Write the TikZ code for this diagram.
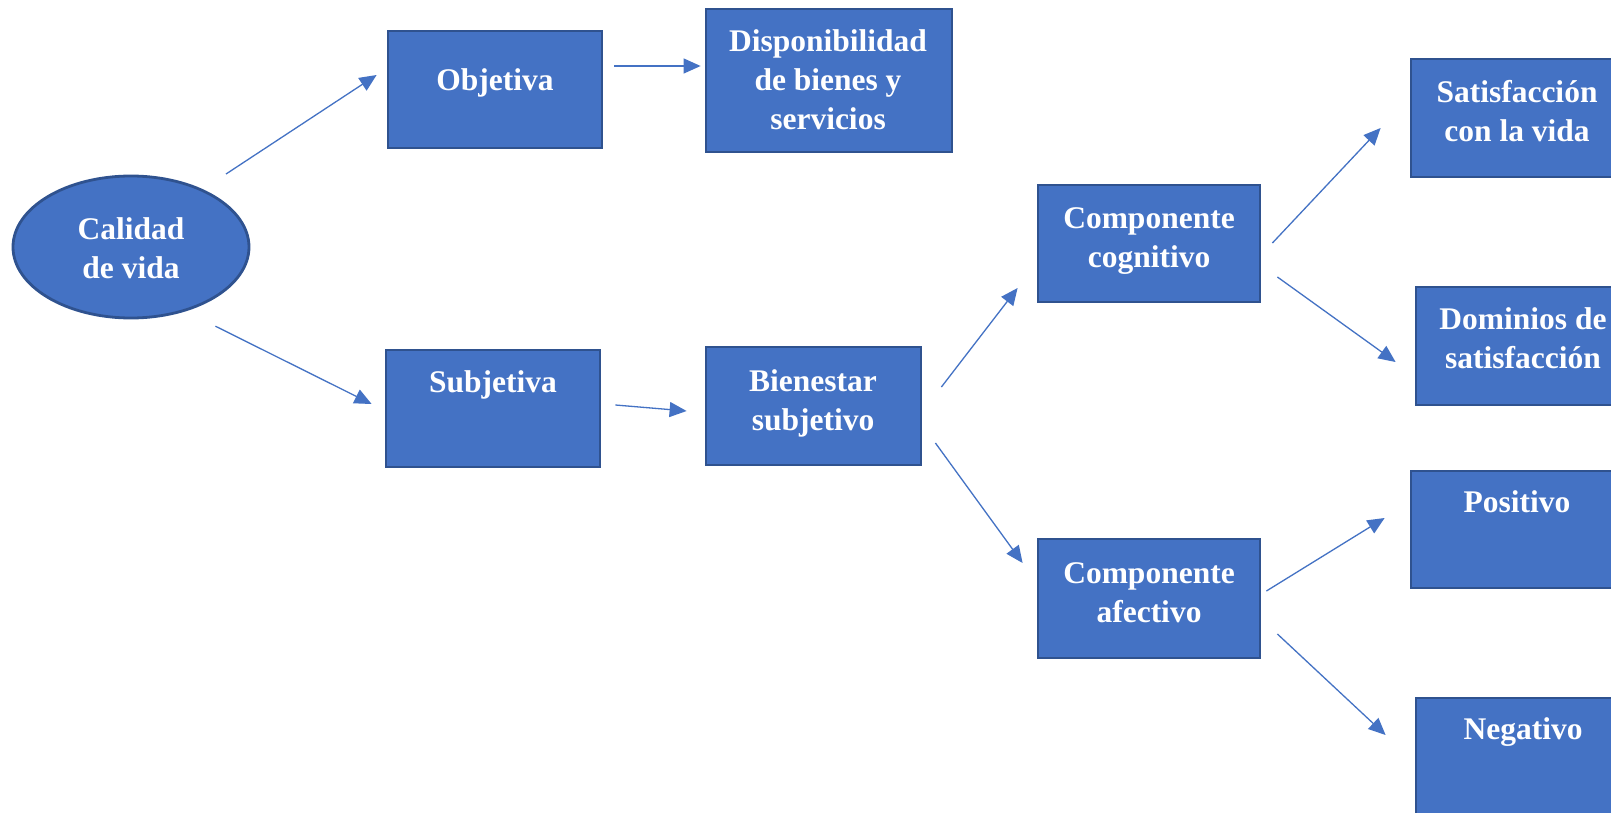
\documentclass[tikz,border=0pt]{standalone}
\usepackage{fontspec}
\setmainfont{Liberation Serif}
\usetikzlibrary{arrows.meta,shapes.geometric}
\definecolor{boxfill}{HTML}{4472C4}
\definecolor{boxline}{HTML}{2F528F}
\tikzset{
  boxnode/.style={draw=boxline,fill=boxfill,line width=2.8pt,inner sep=0pt},
  ellnode/.style={ellipse,draw=boxline,fill=boxfill,line width=2.8pt,inner sep=0pt},
  txt/.style={text=white,font=\bfseries\fontsize{31.5}{39}\selectfont,align=center,anchor=base,inner sep=0pt},
  conn/.style={draw=boxfill,line width=1.3pt,-{Triangle[length=17pt,width=15pt]}}
}
\begin{document}
\begin{tikzpicture}[x=1pt,y=-1pt]
\useasboundingbox (0,0) rectangle (1611,813);
\clip (0,0) rectangle (1611,813);
\fill[white] (0,0) rectangle (1611,813);
% shapes
\node[ellnode,minimum width=236pt,minimum height=142pt] (cal) at (131,247) {};
\node[boxnode,minimum width=214pt,minimum height=117pt] (obj) at (495,89.5) {};
\node[boxnode,minimum width=246pt,minimum height=143pt] (disp) at (829,80.5) {};
\node[boxnode,minimum width=214pt,minimum height=117pt] (subj) at (493,408.5) {};
\node[boxnode,minimum width=215pt,minimum height=118pt] (bien) at (813.5,406) {};
\node[boxnode,minimum width=222pt,minimum height=117pt] (cog) at (1149,243.5) {};
\node[boxnode,minimum width=222pt,minimum height=119pt] (afe) at (1149,598.5) {};
\node[boxnode,minimum width=212pt,minimum height=118pt] (sat) at (1517,118) {};
\node[boxnode,minimum width=212pt,minimum height=118pt] (dom) at (1522,346) {};
\node[boxnode,minimum width=212pt,minimum height=117pt] (pos) at (1517,529.5) {};
\node[boxnode,minimum width=212pt,minimum height=118pt] (neg) at (1522,757) {};
% texts (base anchor = baseline of last line)
\node[txt] (calt) at (131,278.5) {Calidad\\de vida};
\node[txt] (objt) at (495,90.5) {Objetiva};
\node[txt] (dispt) at (828,129.5) {Disponibilidad\\de bienes y\\servicios};
\node[txt] (subjt) at (493,392.5) {Subjetiva};
\node[txt] (bient) at (813,430.5) {Bienestar\\subjetivo};
\node[txt] (cogt) at (1149,267.5) {Componente\\cognitivo};
\node[txt] (afet) at (1149,622.5) {Componente\\afectivo};
\node[txt] (satt) at (1517,141.5) {Satisfacción\\con la vida};
\node[txt] (domt) at (1523,368.5) {Dominios de\\satisfacción};
\node[txt] (post) at (1517,512.5) {Positivo};
\node[txt] (negt) at (1523,739.5) {Negativo};
% connectors
\draw[conn] ([shift={(10.6,-21.8)}]cal.north east) -- ([shift={(-10,-14.5)}]obj.west);
\draw[conn] ([shift={(0,28)}]cal.south east) -- ([shift={(-13,-4.5)}]subj.west);
\draw[conn] ([shift={(11,-23.5)}]obj.east) -- ([shift={(-4,-14.5)}]disp.west);
\draw[conn] ([shift={(14,-3.5)}]subj.east) -- ([shift={(-18,5)}]bien.west);
\draw[conn] ([shift={(19,-19)}]bien.east) -- ([shift={(-19,44.5)}]cog.west);
\draw[conn] ([shift={(13,37)}]bien.east) -- ([shift={(-14,-35.5)}]afe.west);
\draw[conn] ([shift={(11,-0.5)}]cog.east) -- ([shift={(-29,10)}]sat.west);
\draw[conn] ([shift={(16,33.5)}]cog.east) -- ([shift={(-19,16)}]dom.west);
\draw[conn] ([shift={(5,-7.5)}]afe.east) -- ([shift={(-25,-11.5)}]pos.west);
\draw[conn] ([shift={(16,35.5)}]afe.east) -- ([shift={(-29,-22)}]neg.west);
\end{tikzpicture}
\end{document}
